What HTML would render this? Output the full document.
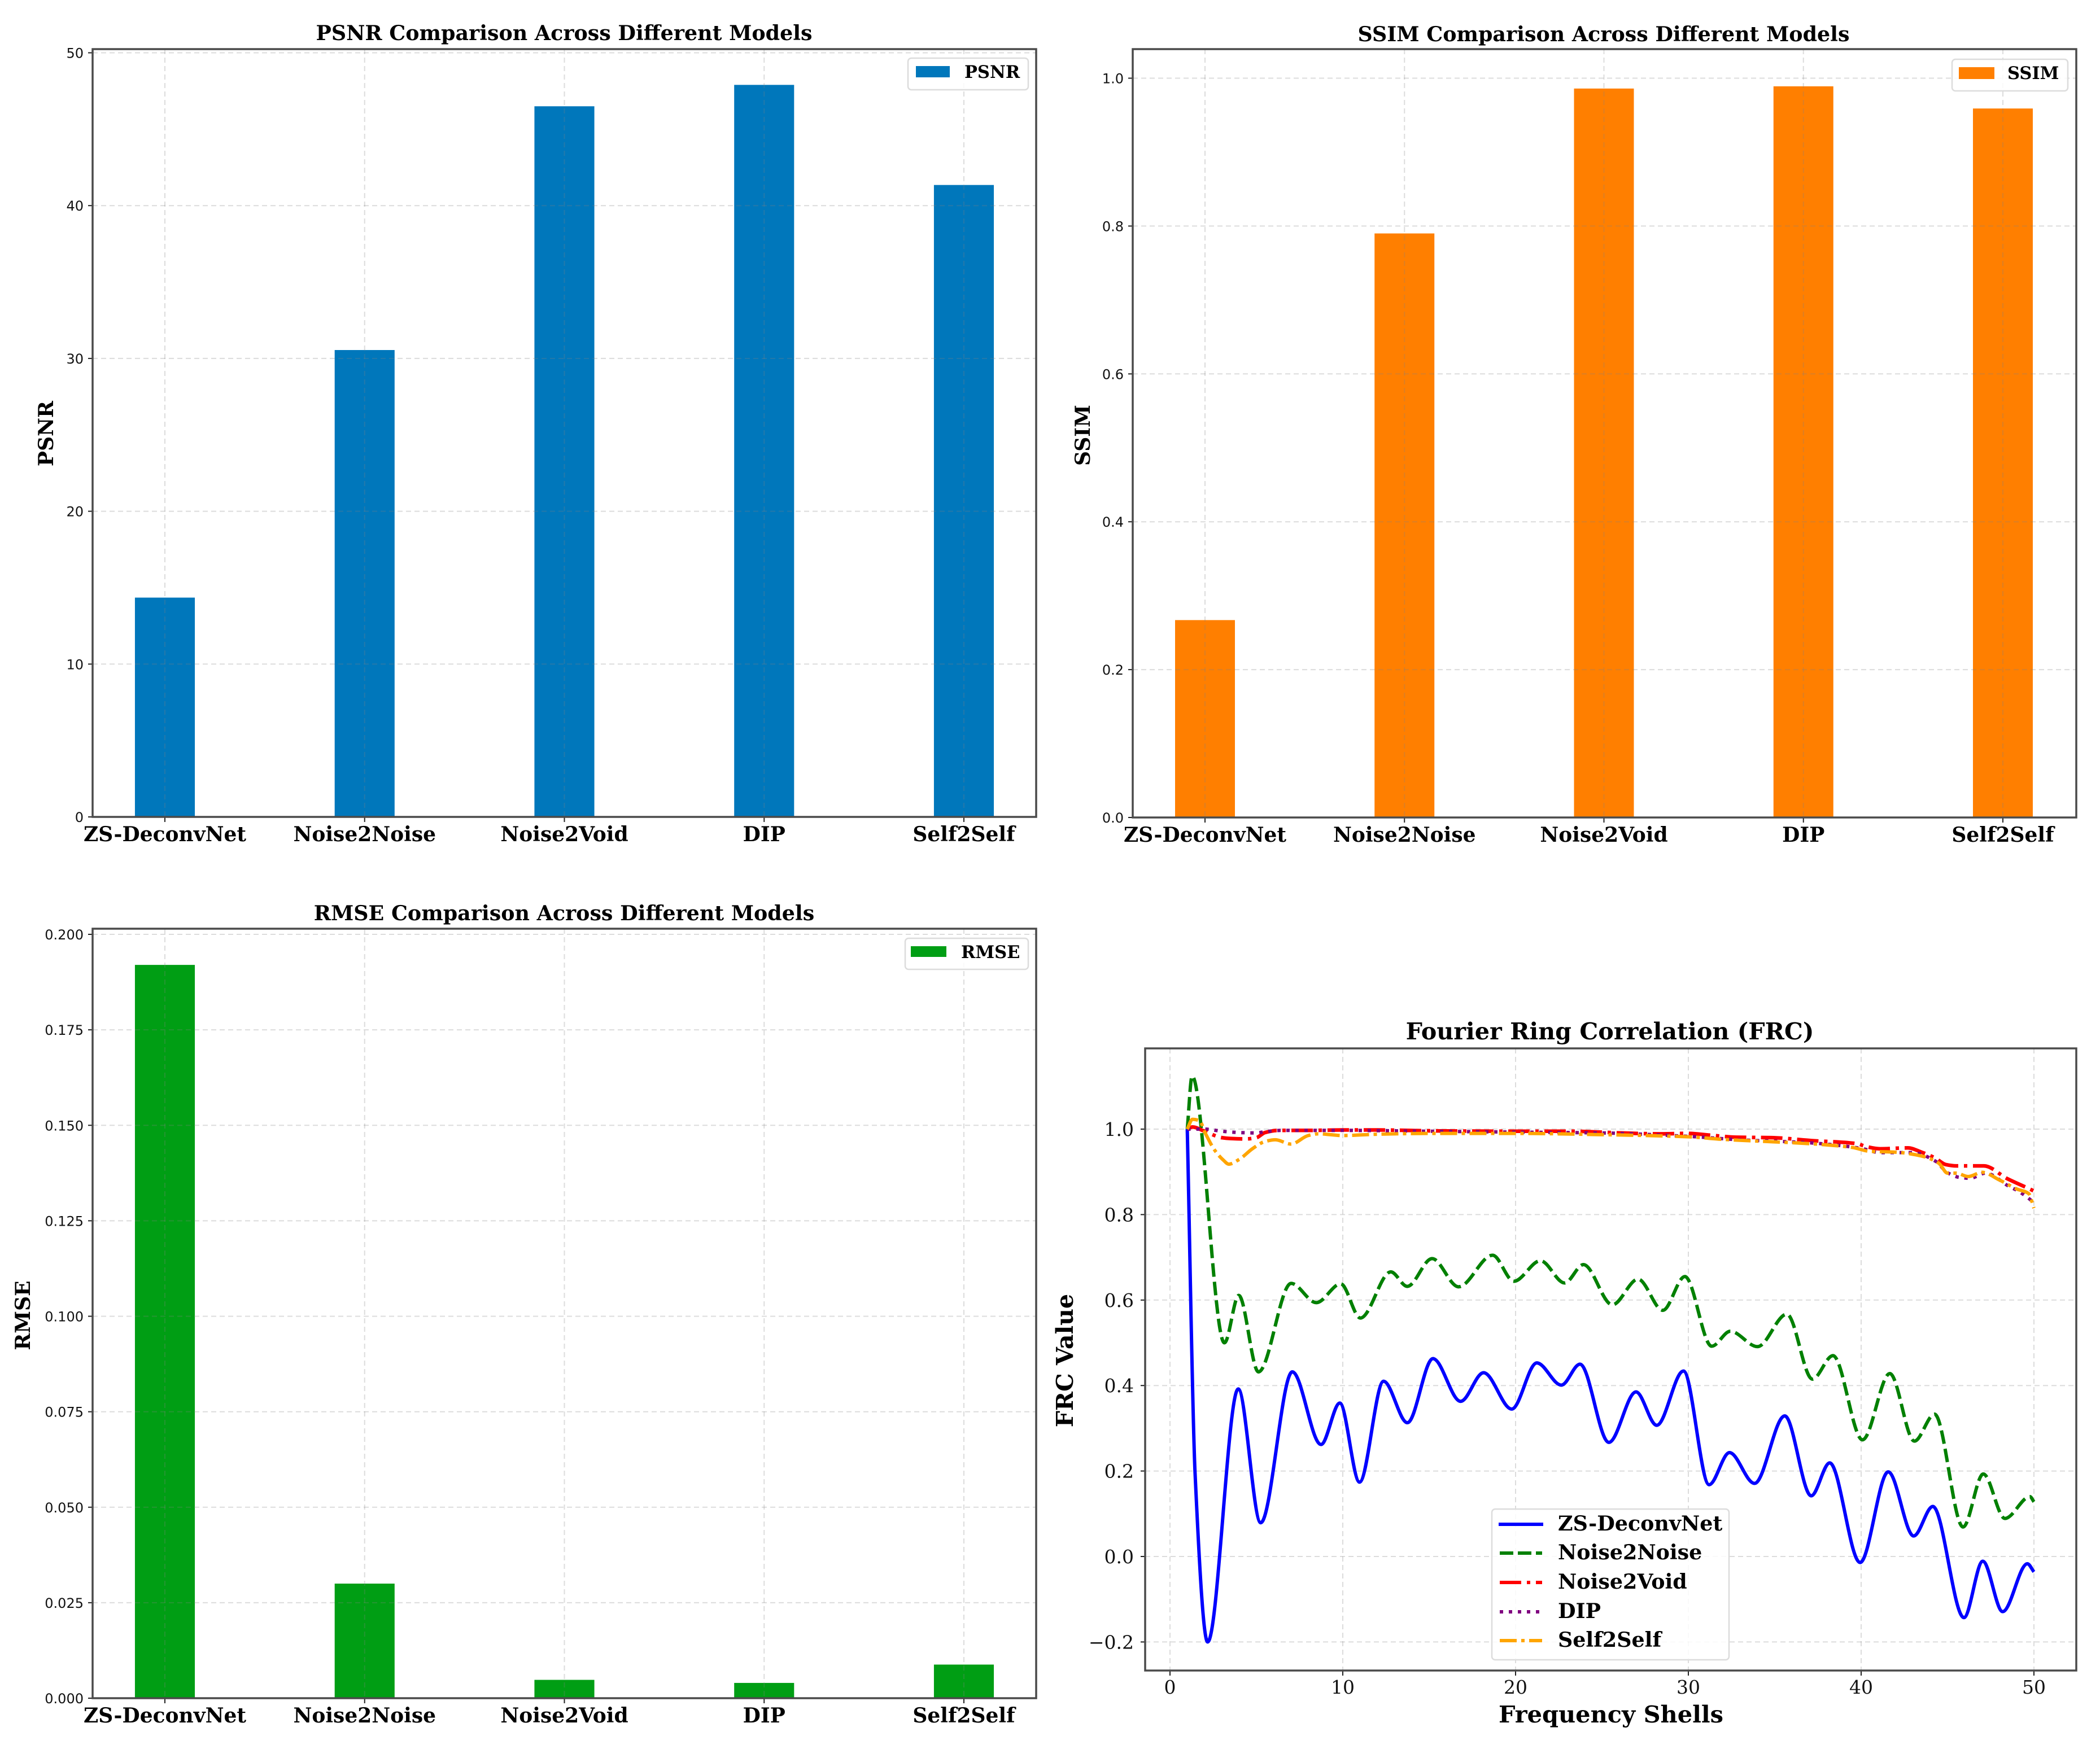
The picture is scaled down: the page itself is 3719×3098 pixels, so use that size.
<!DOCTYPE html>
<html>
<head>
<meta charset="utf-8">
<title>Model comparison charts</title>
<style>
html,body{margin:0;padding:0;background:#fff;}
svg{display:block;}
.serif{font-family:"DejaVu Serif","Liberation Serif",serif;font-weight:bold;fill:#000;}
.sans{font-family:"DejaVu Sans","Liberation Sans",sans-serif;fill:#111;}
.frc-tick{font-family:"DejaVu Serif","Liberation Serif",serif;fill:#111;}
.legend-box{fill:#fff;fill-opacity:.85;stroke:#dcdcdc;stroke-width:2.5;}
</style>
</head>
<body>
<svg id="figure" xmlns="http://www.w3.org/2000/svg" width="3719" height="3098" viewBox="0 0 3719 3098">
  <rect x="0" y="0" width="3719" height="3098" fill="#fff"/>
  <g id="panel-psnr"></g>
  <g id="panel-ssim"></g>
  <g id="panel-rmse"></g>
  <g id="panel-frc"></g>

  <text class="serif" x="999" y="71" font-size="36.4" text-anchor="middle">PSNR Comparison Across Different Models</text>
  <text class="serif" x="2840" y="73" font-size="36.4" text-anchor="middle">SSIM Comparison Across Different Models</text>
  <text class="serif" x="999" y="1630" font-size="36.4" text-anchor="middle">RMSE Comparison Across Different Models</text>
  <text class="serif" x="2851" y="1841" font-size="41.3" text-anchor="middle">Fourier Ring Correlation (FRC)</text>

  <text class="serif" font-size="36" text-anchor="middle" transform="translate(82,768) rotate(-90)" dy="12">PSNR</text>
  <text class="serif" font-size="36" text-anchor="middle" transform="translate(1930,771) rotate(-90)">SSIM</text>
  <text class="serif" font-size="36" text-anchor="middle" transform="translate(53,2330) rotate(-90)">RMSE</text>
  <text class="serif" font-size="41" text-anchor="middle" transform="translate(1900,2410) rotate(-90)">FRC Value</text>
  <text class="serif" x="2853" y="3051" font-size="41.5" text-anchor="middle">Frequency Shells</text>

  <g>
    <rect class="legend-box" x="1608" y="103" width="213" height="56" rx="6"/>
    <rect x="1622" y="117" width="60" height="20" fill="#0077bb"/>
    <text class="serif" x="1708" y="138" font-size="30.5">PSNR</text>
  </g>
  <g>
    <rect class="legend-box" x="3457" y="105" width="205" height="56" rx="6"/>
    <rect x="3469" y="119" width="63" height="21" fill="#ff7f00"/>
    <text class="serif" x="3555" y="140" font-size="30.5">SSIM</text>
  </g>
  <g>
    <rect class="legend-box" x="1603" y="1662" width="218" height="55" rx="6"/>
    <rect x="1613" y="1676" width="63" height="19" fill="#009e14"/>
    <text class="serif" x="1702" y="1697" font-size="30.5">RMSE</text>
  </g>
  <g>
    <rect class="legend-box" x="2642" y="2673" width="420" height="267" rx="6"/>
    <line x1="2654" x2="2733" y1="2700" y2="2700" stroke="#0000ff" stroke-width="6"/>
    <text class="serif" x="2759" y="2711" font-size="36.4">ZS-DeconvNet</text>
    <line x1="2656" x2="2731" y1="2751" y2="2751" stroke="#008000" stroke-width="6" stroke-dasharray="24 8"/>
    <text class="serif" x="2759" y="2762" font-size="36.4">Noise2Noise</text>
    <line x1="2656" x2="2731" y1="2803" y2="2803" stroke="#ff0000" stroke-width="6" stroke-dasharray="38 10 6 10"/>
    <text class="serif" x="2759" y="2814" font-size="36.4">Noise2Void</text>
    <line x1="2656" x2="2731" y1="2855" y2="2855" stroke="#800080" stroke-width="6" stroke-dasharray="6 10"/>
    <text class="serif" x="2759" y="2866" font-size="36.4">DIP</text>
    <line x1="2656" x2="2731" y1="2906" y2="2906" stroke="#ffa500" stroke-width="6" stroke-dasharray="30 8 6 8"/>
    <text class="serif" x="2759" y="2917" font-size="36.4">Self2Self</text>
  </g>
</svg>
<script>
var categories = ['ZS-DeconvNet', 'Noise2Noise', 'Noise2Void', 'DIP', 'Self2Self'];
var psnrValues = [14.35, 30.55, 46.5, 47.9, 41.35];
var ssimValues = [0.267, 0.79, 0.986, 0.989, 0.959];
var rmseValues = [0.192, 0.03, 0.0048, 0.004, 0.0088];
var psnrTicks = ['0', '10', '20', '30', '40', '50'];
var ssimTicks = ['0.0', '0.2', '0.4', '0.6', '0.8', '1.0'];
var rmseTicks = ['0.000', '0.025', '0.050', '0.075', '0.100', '0.125', '0.150', '0.175', '0.200'];
var frcXTicks = ['0', '10', '20', '30', '40', '50'];
var frcYTicks = ['-0.2', '0.0', '0.2', '0.4', '0.6', '0.8', '1.0'];

var zsShells = [1, 1.45, 2.18, 3.95, 5.25, 7.08, 8.74, 9.83, 10.97, 12.36, 13.74, 15.22, 16.82, 18.15, 19.78, 21.23, 22.65, 23.73, 25.4, 26.97, 28.17, 29.72, 31.2, 32.38, 33.83, 35.58, 37.11, 38.18, 39.94, 41.57, 43.04, 44.15, 45.95, 47.04, 48.19, 49.62, 50];
var zsValues = [1, 0.196, -0.2, 0.392, 0.079, 0.432, 0.262, 0.359, 0.174, 0.41, 0.313, 0.463, 0.363, 0.43, 0.345, 0.453, 0.401, 0.45, 0.267, 0.385, 0.307, 0.434, 0.168, 0.243, 0.171, 0.329, 0.142, 0.219, -0.014, 0.198, 0.048, 0.117, -0.143, -0.011, -0.129, -0.017, -0.036];

var n2nShells = [1, 1.28, 3.15, 3.98, 5.12, 7.01, 8.47, 9.88, 11.02, 12.78, 13.73, 15.17, 16.7, 18.67, 19.9, 21.44, 22.84, 23.93, 25.6, 27.09, 28.52, 29.8, 31.35, 32.43, 34, 35.7, 37.18, 38.37, 40.08, 41.66, 43.08, 44.25, 45.9, 47.07, 48.32, 49.77, 50];
var n2nValues = [1, 1.124, 0.5, 0.611, 0.432, 0.639, 0.594, 0.638, 0.558, 0.666, 0.632, 0.697, 0.631, 0.705, 0.644, 0.692, 0.64, 0.683, 0.589, 0.649, 0.576, 0.655, 0.492, 0.527, 0.491, 0.567, 0.415, 0.47, 0.273, 0.428, 0.27, 0.333, 0.069, 0.193, 0.089, 0.14, 0.128];

var n2vShells = [1, 1.3, 2, 3, 3.5, 4.39, 5, 5.5, 6.3, 8, 10, 12, 15, 20, 23.3, 26.1, 28.3, 30, 31.2, 32.8, 34.8, 37.2, 39.75, 40.3, 41.1, 42.7, 43.5, 44.3, 44.9, 45.5, 47.1, 48.46, 49.85, 50];
var n2vValues = [1, 1.005, 0.995, 0.98, 0.978, 0.977, 0.98, 0.992, 0.997, 0.997, 0.998, 0.998, 0.996, 0.995, 0.995, 0.991, 0.989, 0.99, 0.986, 0.981, 0.98, 0.973, 0.966, 0.959, 0.954, 0.956, 0.946, 0.932, 0.917, 0.914, 0.914, 0.884, 0.858, 0.855];

var dipShells = [1, 2, 3, 4, 5, 5.5, 6.5, 10, 15, 20, 25, 30, 33, 37, 40, 41.1, 43, 44.3, 45, 45.7, 46.3, 47.2, 48.56, 49.05, 49.5, 50];
var dipValues = [1, 1, 0.995, 0.992, 0.991, 0.994, 0.997, 0.997, 0.995, 0.993, 0.991, 0.983, 0.975, 0.968, 0.955, 0.945, 0.945, 0.925, 0.898, 0.887, 0.885, 0.897, 0.866, 0.856, 0.844, 0.828];

var s2sShells = [1, 1.3, 1.7, 2.05, 2.6, 3.1, 3.4, 4, 4.8, 5.5, 6.1, 7, 8, 8.6, 10, 12, 15, 20, 25, 30, 32, 34, 37, 39.5, 40.5, 42, 43.5, 44.5, 45, 45.5, 46.2, 47, 48, 49, 49.7, 50];
var s2sValues = [1, 1.023, 1.02, 0.99, 0.95, 0.927, 0.918, 0.929, 0.955, 0.971, 0.975, 0.965, 0.985, 0.989, 0.985, 0.988, 0.99, 0.99, 0.987, 0.982, 0.976, 0.972, 0.966, 0.957, 0.948, 0.946, 0.937, 0.92, 0.897, 0.897, 0.889, 0.899, 0.881, 0.86, 0.849, 0.815];

var SVGNS = 'http://www.w3.org/2000/svg';
function shape(parent, tag, attrs) {
  var el = document.createElementNS(SVGNS, tag);
  for (var k in attrs) { el.setAttribute(k, attrs[k]); }
  parent.appendChild(el);
  return el;
}
function slug(s) {
  return s.toLowerCase().replace(/[^a-z0-9]+/g, '-');
}
function linearScale(d0, d1, r0, r1) {
  return function (v) { return r0 + (v - d0) * (r1 - r0) / (d1 - d0); };
}
var GRID = { stroke: '#808080', 'stroke-opacity': 0.28, 'stroke-width': 2, 'stroke-dasharray': '9 6', fill: 'none' };
var SPINE = { fill: 'none', stroke: '#4a4a4a', 'stroke-width': 3.5 };
function gridAttrs(x1, y1, x2, y2) {
  return { x1: x1, y1: y1, x2: x2, y2: y2, stroke: GRID.stroke, 'stroke-opacity': GRID['stroke-opacity'], 'stroke-width': GRID['stroke-width'], 'stroke-dasharray': GRID['stroke-dasharray'] };
}

function drawBarPanel(id, box, firstX, stepX, yScale, values, ticks, color, prefix) {
  var g = document.getElementById(id);
  function xPos(i) { return firstX + i * stepX; }
  var barW = stepX * 0.3;
  values.forEach(function (v, i) {
    var top = yScale(v);
    var bar = shape(g, 'rect', { x: xPos(i) - barW / 2, y: top, width: barW, height: box.bottom - top, fill: color });
    
    
  });
  ticks.forEach(function (label) {
    var y = yScale(parseFloat(label));
    var gridLine = shape(g, 'line', gridAttrs(box.left, y, box.right, y));
    
    
    var tick = shape(g, 'line', { x1: box.left - 8, x2: box.left, y1: y, y2: y, stroke: '#222', 'stroke-width': 2 });
    
    
    var text = shape(g, 'text', { x: box.left - 16, y: y + 9, 'text-anchor': 'end', 'font-size': 24, class: 'sans' });
    text.textContent = label;
    
    
  });
  categories.forEach(function (name, i) {
    var x = xPos(i);
    var gridLine = shape(g, 'line', gridAttrs(x, box.top, x, box.bottom));
    
    
    var tick = shape(g, 'line', { x1: x, x2: x, y1: box.bottom, y2: box.bottom + 9, stroke: '#222', 'stroke-width': 2 });
    
    
    var text = shape(g, 'text', { x: x, y: box.bottom + 43, 'text-anchor': 'middle', 'font-size': 36, class: 'serif' });
    text.textContent = name;
    
    
  });
  var frame = shape(g, 'rect', { x: box.left, y: box.top, width: box.right - box.left, height: box.bottom - box.top, fill: SPINE.fill, stroke: SPINE.stroke, 'stroke-width': SPINE['stroke-width'] });
  
  
}

function monotonePath(xs, ys, xScale, yScale) {
  var n = xs.length, d = [], m = [], i;
  for (i = 0; i < n - 1; i++) { d.push((ys[i + 1] - ys[i]) / (xs[i + 1] - xs[i])); }
  m.push(d[0]);
  for (i = 1; i < n - 1; i++) {
    if (d[i - 1] * d[i] <= 0) { m.push(0); }
    else {
      var h0 = xs[i] - xs[i - 1], h1 = xs[i + 1] - xs[i];
      var w1 = 2 * h1 + h0, w2 = h1 + 2 * h0;
      m.push((w1 + w2) / (w1 / d[i - 1] + w2 / d[i]));
    }
  }
  m.push(d[n - 2]);
  var path = 'M' + xScale(xs[0]).toFixed(2) + ' ' + yScale(ys[0]).toFixed(2);
  for (i = 0; i < n - 1; i++) {
    var h = xs[i + 1] - xs[i];
    path += 'C' + xScale(xs[i] + h / 3).toFixed(2) + ' ' + yScale(ys[i] + m[i] * h / 3).toFixed(2) + ' ' +
      xScale(xs[i + 1] - h / 3).toFixed(2) + ' ' + yScale(ys[i + 1] - m[i + 1] * h / 3).toFixed(2) + ' ' +
      xScale(xs[i + 1]).toFixed(2) + ' ' + yScale(ys[i + 1]).toFixed(2);
  }
  return path;
}

drawBarPanel('panel-psnr', { left: 164, right: 1835, top: 87, bottom: 1447 }, 292, 353.75, linearScale(0, 50, 1447, 93.5), psnrValues, psnrTicks, '#0077bb', 'psnr');
drawBarPanel('panel-ssim', { left: 2006, right: 3677, top: 87, bottom: 1448 }, 2134, 353.25, linearScale(0, 1, 1448, 138.5), ssimValues, ssimTicks, '#ff7f00', 'ssim');
drawBarPanel('panel-rmse', { left: 164, right: 1835, top: 1645, bottom: 3008 }, 292, 353.75, linearScale(0, 0.2, 3008, 1655), rmseValues, rmseTicks, '#009e14', 'rmse');

(function drawFrc() {
  var g = document.getElementById('panel-frc');
  var box = { left: 2028, right: 3677, top: 1857, bottom: 2959 };
  var xS = linearScale(0, 50, 2072, 3602);
  var yS = linearScale(0, 1, 2757, 2000);
  frcYTicks.forEach(function (label) {
    var y = yS(parseFloat(label));
    var gridLine = shape(g, 'line', gridAttrs(box.left, y, box.right, y));
    
    
    var tick = shape(g, 'line', { x1: box.left - 8, x2: box.left, y1: y, y2: y, stroke: '#222', 'stroke-width': 2 });
    
    
    var text = shape(g, 'text', { x: box.left - 20, y: y + 12, 'text-anchor': 'end', 'font-size': 33, class: 'frc-tick' });
    text.textContent = label.replace('-', '\u2212');
    
    
  });
  frcXTicks.forEach(function (label) {
    var x = xS(parseFloat(label));
    var gridLine = shape(g, 'line', gridAttrs(x, box.top, x, box.bottom));
    
    
    var tick = shape(g, 'line', { x1: x, x2: x, y1: box.bottom, y2: box.bottom + 9, stroke: '#222', 'stroke-width': 2 });
    
    
    var text = shape(g, 'text', { x: x, y: 3000, 'text-anchor': 'middle', 'font-size': 33, class: 'frc-tick' });
    text.textContent = label;
    
    
  });
  var zs = shape(g, 'path', { d: monotonePath(zsShells, zsValues, xS, yS), fill: 'none', stroke: '#0000ff', 'stroke-width': 6, 'stroke-linejoin': 'round' });
  
  
  var n2n = shape(g, 'path', { d: monotonePath(n2nShells, n2nValues, xS, yS), fill: 'none', stroke: '#008000', 'stroke-width': 6, 'stroke-dasharray': '24 9' });
  
  
  var n2v = shape(g, 'path', { d: monotonePath(n2vShells, n2vValues, xS, yS), fill: 'none', stroke: '#ff0000', 'stroke-width': 6.5, 'stroke-dasharray': '38 10 6 10' });
  
  
  var dip = shape(g, 'path', { d: monotonePath(dipShells, dipValues, xS, yS), fill: 'none', stroke: '#800080', 'stroke-width': 6, 'stroke-dasharray': '6 10' });
  
  
  var s2s = shape(g, 'path', { d: monotonePath(s2sShells, s2sValues, xS, yS), fill: 'none', stroke: '#ffa500', 'stroke-width': 6, 'stroke-dasharray': '30 8 6 8' });
  
  
  var frame = shape(g, 'rect', { x: box.left, y: box.top, width: box.right - box.left, height: box.bottom - box.top, fill: SPINE.fill, stroke: SPINE.stroke, 'stroke-width': SPINE['stroke-width'] });
  
  
})();
</script>
</body>
</html>
